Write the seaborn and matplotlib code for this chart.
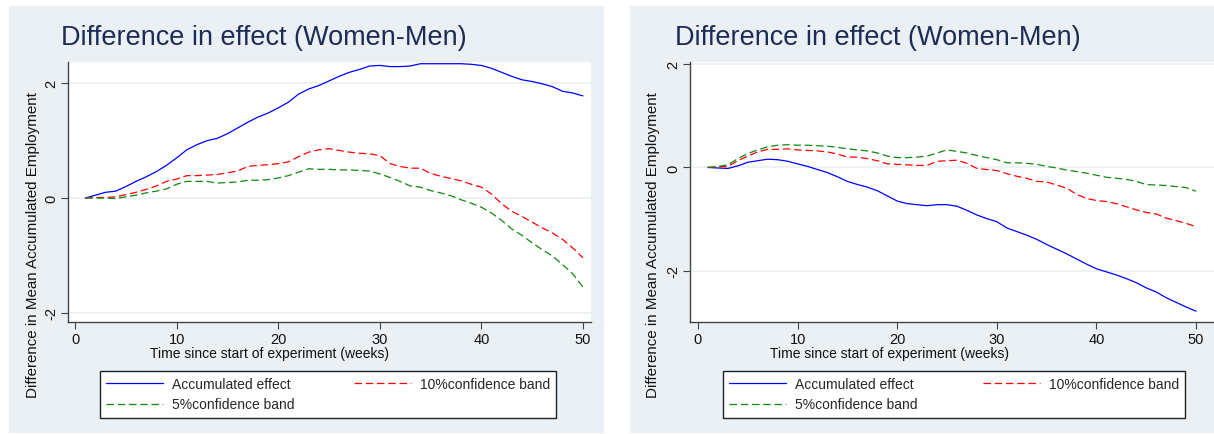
import matplotlib
matplotlib.use('Agg')
import matplotlib.pyplot as plt
from matplotlib.patches import Rectangle
import seaborn as sns
import pandas as pd

# Semaines (axe x)
weeks = list(range(1, 51))

# Panneau gauche
left_effect = [0.00, 0.05, 0.10, 0.12, 0.20, 0.29, 0.37, 0.46, 0.57, 0.70,
               0.84, 0.93, 1.00, 1.04, 1.12, 1.22, 1.32, 1.41, 1.48, 1.57,
               1.67, 1.81, 1.90, 1.96, 2.04, 2.12, 2.19, 2.24, 2.30, 2.31,
               2.29, 2.29, 2.30, 2.34, 2.34, 2.34, 2.34, 2.34, 2.33, 2.31,
               2.26, 2.19, 2.12, 2.06, 2.03, 1.99, 1.94, 1.86, 1.83, 1.78]
left_ci10 = [0.00, 0.01, 0.01, 0.02, 0.06, 0.10, 0.15, 0.21, 0.29, 0.33,
             0.39, 0.39, 0.40, 0.41, 0.44, 0.47, 0.55, 0.57, 0.58, 0.60,
             0.63, 0.72, 0.80, 0.84, 0.86, 0.83, 0.80, 0.78, 0.77, 0.74,
             0.60, 0.55, 0.52, 0.52, 0.43, 0.38, 0.34, 0.30, 0.24, 0.19,
             0.07, -0.10, -0.23, -0.32, -0.42, -0.52, -0.61, -0.72, -0.87, -1.04]
left_ci5 = [0.00, 0.00, 0.00, -0.01, 0.02, 0.05, 0.09, 0.12, 0.16, 0.24,
            0.29, 0.29, 0.29, 0.26, 0.27, 0.28, 0.31, 0.31, 0.32, 0.35,
            0.39, 0.45, 0.51, 0.50, 0.50, 0.49, 0.49, 0.48, 0.47, 0.42,
            0.36, 0.29, 0.21, 0.19, 0.13, 0.09, 0.04, -0.03, -0.09, -0.16,
            -0.26, -0.39, -0.54, -0.65, -0.78, -0.90, -1.01, -1.16, -1.32, -1.55]

# Panneau droit
right_effect = [0.00, -0.01, -0.02, 0.03, 0.10, 0.13, 0.16, 0.15, 0.12, 0.07,
                0.02, -0.04, -0.10, -0.18, -0.27, -0.33, -0.38, -0.45, -0.55, -0.65,
                -0.70, -0.72, -0.74, -0.72, -0.72, -0.75, -0.83, -0.92, -0.99, -1.05,
                -1.17, -1.24, -1.31, -1.39, -1.49, -1.58, -1.67, -1.77, -1.87, -1.96,
                -2.02, -2.08, -2.15, -2.23, -2.33, -2.41, -2.52, -2.61, -2.70, -2.78]
right_ci10 = [0.00, 0.01, 0.02, 0.13, 0.22, 0.30, 0.35, 0.35, 0.36, 0.34,
              0.33, 0.32, 0.30, 0.26, 0.20, 0.20, 0.17, 0.13, 0.07, 0.06,
              0.05, 0.04, 0.04, 0.12, 0.13, 0.14, 0.08, -0.02, -0.04, -0.06,
              -0.12, -0.17, -0.21, -0.27, -0.28, -0.34, -0.40, -0.52, -0.60, -0.64,
              -0.66, -0.70, -0.76, -0.82, -0.87, -0.90, -0.98, -1.03, -1.08, -1.15]
right_ci5 = [0.00, 0.02, 0.05, 0.17, 0.27, 0.34, 0.40, 0.43, 0.44, 0.43,
             0.43, 0.42, 0.41, 0.39, 0.36, 0.34, 0.32, 0.28, 0.22, 0.19,
             0.19, 0.20, 0.22, 0.28, 0.34, 0.31, 0.28, 0.23, 0.19, 0.15,
             0.09, 0.09, 0.08, 0.06, 0.02, -0.01, -0.05, -0.08, -0.11, -0.15,
             -0.19, -0.21, -0.23, -0.27, -0.33, -0.34, -0.35, -0.37, -0.39, -0.46]

series_names = ['Accumulated effect', '10%confidence band', '5%confidence band']
title_text = 'Difference in effect (Women-Men)'
ylabel_text = 'Difference in Mean Accumulated Employment'
xlabel_text = 'Time since start of experiment (weeks)'

palette = {series_names[0]: '#0000ff', series_names[1]: '#ff0000', series_names[2]: '#118811'}
dashes = {series_names[0]: '', series_names[1]: (6, 3), series_names[2]: (6, 3)}

sns.set_style('white')
plt.rcParams['font.family'] = ['Liberation Sans', 'DejaVu Sans']

W, H = 1214, 435
fig = plt.figure(figsize=(W / 100, H / 100), dpi=100)
fig.patch.set_facecolor('white')


def fx(px):
    return px / W


def fy(py):
    return 1 - py / H


def make_df(effect, ci10, ci5):
    rows = []
    for name, vals in zip(series_names, [effect, ci10, ci5]):
        for w, v in zip(weeks, vals):
            rows.append({'week': w, 'value': v, 'series': name})
    return pd.DataFrame(rows)


panels = [
    # fond, axes, limites, positions des textes
    dict(bg=(9, 7, 604, 434), ax=(68, 63, 591, 323), xlim=(-0.7, 50.8), ylim=(-2.16, 2.37),
         title_x=61, ylab_x=33, xlab_x=270, leg=(100, 372, 556, 421),
         data=make_df(left_effect, left_ci10, left_ci5)),
    dict(bg=(630, 7, 1214, 434), ax=(690, 63, 1214, 323), xlim=(-0.8, 51.8), ylim=(-2.99, 2.04),
         title_x=675, ylab_x=653, xlab_x=890, leg=(723, 372, 1185, 421),
         data=make_df(right_effect, right_ci10, right_ci5)),
]

for p in panels:
    x0, y0, x1, y1 = p['bg']
    fig.patches.append(Rectangle((fx(x0), fy(y1)), fx(x1 - x0), (y1 - y0) / H,
                                 transform=fig.transFigure, facecolor='#eaf0f3',
                                 edgecolor='none', zorder=-5))

    a0, b0, a1, b1 = p['ax']
    ax = fig.add_axes([fx(a0), fy(b1), fx(a1 - a0), (b1 - b0) / H])
    ax.set_facecolor('white')
    sns.lineplot(data=p['data'], x='week', y='value', hue='series', style='series',
                 hue_order=series_names, style_order=series_names,
                 palette=palette, dashes=dashes, linewidth=0.9, legend=False, ax=ax)
    ax.set_xlim(*p['xlim'])
    ax.set_ylim(*p['ylim'])
    ax.set_xticks([0, 10, 20, 30, 40, 50])
    ax.set_yticks([-2, 0, 2])
    ax.set_yticklabels(['-2', '0', '2'], rotation=90, va='center')
    ax.yaxis.grid(True, color='#eaf0f3', linewidth=1.2)
    ax.set_axisbelow(True)
    ax.set_xlabel('')
    ax.set_ylabel('')
    for s in ['top', 'right']:
        ax.spines[s].set_visible(False)
    for s in ['left', 'bottom']:
        ax.spines[s].set_color('#444444')
        ax.spines[s].set_linewidth(1.0)
    ax.tick_params(axis='both', direction='out', length=5, width=0.8, color='#444444',
                   labelsize=10.5, labelcolor='#111111', left=True, bottom=True, pad=2)

    fig.text(fx(p['title_x']), fy(45), title_text, fontsize=19.5, color='#1e2b55',
             ha='left', va='baseline')
    fig.text(fx(p['ylab_x']), fy(245), ylabel_text, fontsize=10.9, rotation=90,
             ha='center', va='center', color='#111111')
    fig.text(fx(p['xlab_x']), fy(354), xlabel_text, fontsize=10,
             ha='center', va='center', color='#111111')

    # légende: ordre pour remplir par lignes
    lines = ax.get_lines()
    handles = [lines[0], lines[2], lines[1]]
    labels = [series_names[0], series_names[2], series_names[1]]
    l0, t0, l1, t1 = p['leg']
    leg = fig.legend(handles, labels, loc='upper left',
                     bbox_to_anchor=(fx(l0), fy(t1), fx(l1 - l0), (t1 - t0) / H),
                     mode='expand', ncol=2, fontsize=10, frameon=True, fancybox=False,
                     framealpha=1, edgecolor='#222222', borderaxespad=0, handlelength=4.1,
                     handletextpad=0.65, labelspacing=0.45, borderpad=0.45,
                     columnspacing=1.0)
    leg.get_frame().set_linewidth(1.0)
    leg.get_frame().set_facecolor('white')

fig.savefig('out.png', dpi=100, facecolor='white')
